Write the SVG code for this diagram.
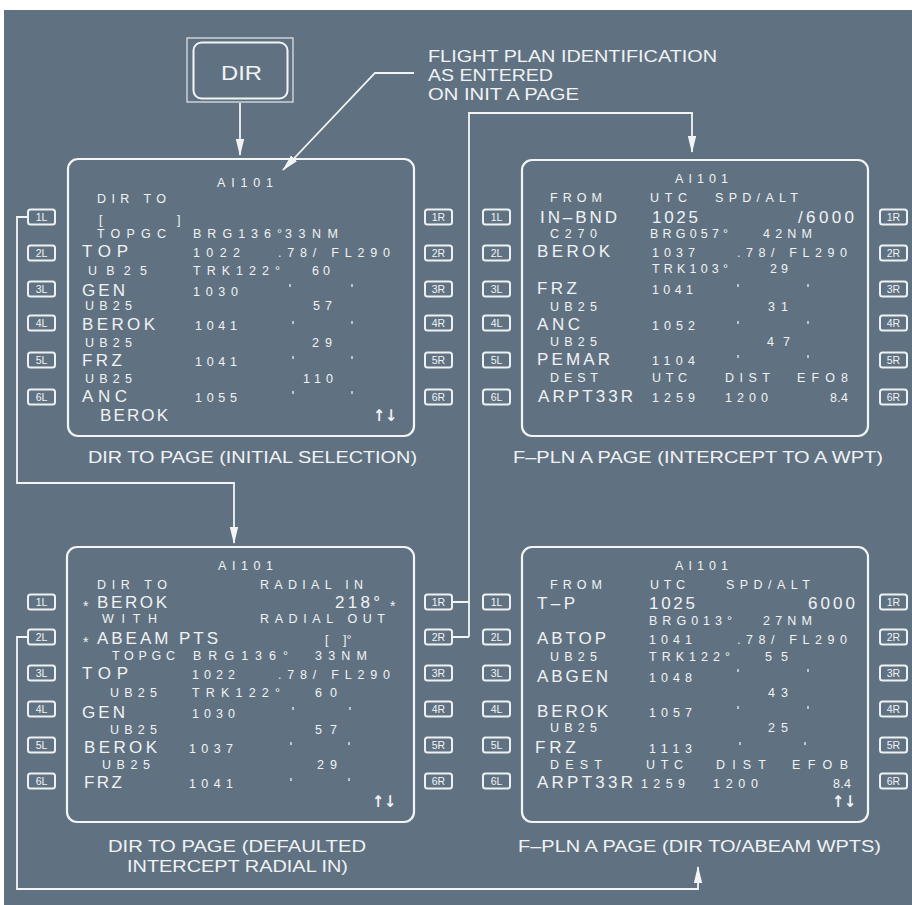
<svg xmlns="http://www.w3.org/2000/svg" width="912" height="905" viewBox="0 0 912 905">
<style>
.bg{fill:#607282}
.pn{fill:none;stroke:#f2f4f5;stroke-width:2.2}
.kb{fill:none;stroke:#eef1f3;stroke-width:2}
text{font-family:"Liberation Sans",Arial,sans-serif;fill:#f0f2f4}
.s{font-size:12.5px}
.l{font-size:17px}
.ar{font-family:"DejaVu Sans",sans-serif;font-size:16px;font-weight:bold}
.kt{font-size:10.5px;text-anchor:middle}
.cap{font-size:17px}
.c{fill:none;stroke:#f2f4f5;stroke-width:1.8}
.tk{fill:none;stroke:#eef1f3;stroke-width:1.3}
</style>
<defs>
<marker id="ah" markerUnits="userSpaceOnUse" markerWidth="17" markerHeight="10" refX="16" refY="5" orient="auto">
<path d="M0,0.8 L17,5 L0,9.2 z" fill="#f2f4f5"/>
</marker>
<g id="k1L"><rect class="kb" width="27" height="15" rx="2.5"/><text class="kt" x="13.5" y="11.5">1L</text></g>
<g id="k2L"><rect class="kb" width="27" height="15" rx="2.5"/><text class="kt" x="13.5" y="11.5">2L</text></g>
<g id="k3L"><rect class="kb" width="27" height="15" rx="2.5"/><text class="kt" x="13.5" y="11.5">3L</text></g>
<g id="k4L"><rect class="kb" width="27" height="15" rx="2.5"/><text class="kt" x="13.5" y="11.5">4L</text></g>
<g id="k5L"><rect class="kb" width="27" height="15" rx="2.5"/><text class="kt" x="13.5" y="11.5">5L</text></g>
<g id="k6L"><rect class="kb" width="27" height="15" rx="2.5"/><text class="kt" x="13.5" y="11.5">6L</text></g>
<g id="k1R"><rect class="kb" width="27" height="15" rx="2.5"/><text class="kt" x="13.5" y="11.5">1R</text></g>
<g id="k2R"><rect class="kb" width="27" height="15" rx="2.5"/><text class="kt" x="13.5" y="11.5">2R</text></g>
<g id="k3R"><rect class="kb" width="27" height="15" rx="2.5"/><text class="kt" x="13.5" y="11.5">3R</text></g>
<g id="k4R"><rect class="kb" width="27" height="15" rx="2.5"/><text class="kt" x="13.5" y="11.5">4R</text></g>
<g id="k5R"><rect class="kb" width="27" height="15" rx="2.5"/><text class="kt" x="13.5" y="11.5">5R</text></g>
<g id="k6R"><rect class="kb" width="27" height="15" rx="2.5"/><text class="kt" x="13.5" y="11.5">6R</text></g>
</defs>
<rect x="0" y="0" width="912" height="905" fill="#ffffff"/>
<rect class="bg" x="4" y="10" width="908" height="895"/>

<g id="connectors">
<path class="c" d="M240,103 V155" marker-end="url(#ah)"/>
<path class="c" d="M414,73 H375 L283,170" marker-end="url(#ah)"/>
<path class="c" d="M28,217 H17 V483 H234 V543" marker-end="url(#ah)"/>
<path class="c" d="M28,637 H17 V889 H698 V867" marker-end="url(#ah)"/>
<path class="c" d="M452,602 H469 M452,637 H469"/>
<path class="c" d="M469,637 V113 H692 V152" marker-end="url(#ah)"/>
</g>

<g id="dir-key">
<rect x="187" y="38" width="106" height="64" fill="none" stroke="#e6eaed" stroke-width="1.2"/>
<rect x="193.5" y="42.5" width="94" height="56" rx="8" fill="none" stroke="#f2f4f5" stroke-width="2"/>
<text x="221" y="80" font-size="20" textLength="41" lengthAdjust="spacingAndGlyphs">DIR</text>
</g>

<g id="note">
<text class="cap" x="428" y="62" textLength="289" lengthAdjust="spacingAndGlyphs">FLIGHT PLAN IDENTIFICATION</text>
<text class="cap" x="428" y="81" textLength="125" lengthAdjust="spacingAndGlyphs">AS ENTERED</text>
<text class="cap" x="428" y="100" textLength="151" lengthAdjust="spacingAndGlyphs">ON INIT A PAGE</text>
</g>

<g id="page-dir-initial">
<rect class="pn" x="68" y="159" width="346" height="277" rx="10"/>
<use href="#k1L" x="28" y="209.5"/><use href="#k2L" x="28" y="245.5"/><use href="#k3L" x="28" y="281.5"/>
<use href="#k4L" x="28" y="315.5"/><use href="#k5L" x="28" y="352.5"/><use href="#k6L" x="28" y="389.5"/>
<use href="#k1R" x="425" y="209.5"/><use href="#k2R" x="425" y="245.5"/><use href="#k3R" x="425" y="281.5"/>
<use href="#k4R" x="425" y="315.5"/><use href="#k5R" x="425" y="352.5"/><use href="#k6R" x="425" y="389.5"/>
<text class="s" x="217" y="187" textLength="56">AI101</text>
<text class="s" x="97" y="203" textLength="69">DIR TO</text>
<text class="s" x="99" y="224">[</text><text class="s" x="177" y="224">]</text>
<text class="s" x="97" y="238" textLength="69">TOPGC</text>
<text class="s" x="193" y="238" textLength="89">BRG136°</text>
<text class="s" x="285" y="238" textLength="53">33NM</text>
<text class="l" x="82" y="257" textLength="46">TOP</text>
<text class="s" x="193" y="257" textLength="47">1022</text>
<text class="s" x="278" y="257" textLength="112">.78/ FL290</text>
<text class="s" x="88" y="275" textLength="59">UB25</text>
<text class="s" x="193" y="275" textLength="87">TRK122°</text>
<text class="s" x="312" y="275" textLength="18">60</text>
<text class="l" x="82" y="296" textLength="43">GEN</text>
<text class="s" x="193" y="296" textLength="45">1030</text>
<text class="s" x="85" y="310" textLength="47">UB25</text>
<text class="s" x="313" y="310" textLength="19">57</text>
<text class="l" x="82" y="330" textLength="73">BEROK</text>
<text class="s" x="195" y="330" textLength="42">1041</text>
<text class="s" x="85" y="347" textLength="47">UB25</text>
<text class="s" x="312" y="347" textLength="20">29</text>
<text class="l" x="82" y="366" textLength="40">FRZ</text>
<text class="s" x="195" y="366" textLength="42">1041</text>
<text class="s" x="85" y="383" textLength="47">UB25</text>
<text class="s" x="303" y="383" textLength="30">110</text>
<text class="l" x="82" y="402" textLength="45">ANC</text>
<text class="s" x="195" y="402" textLength="42">1055</text>
<text class="l" x="100" y="421" textLength="68">BEROK</text>
<text class="ar" x="373" y="421" textLength="24" lengthAdjust="spacingAndGlyphs">↑↓</text>
<path class="tk" d="M290,284v3M352,284v3M293,321v3M352,321v3M293,356v3M352,356v3M293,391v3M352,391v3"/>
<text class="cap" x="88" y="463" textLength="329" lengthAdjust="spacingAndGlyphs">DIR TO PAGE (INITIAL SELECTION)</text>
</g>

<g id="page-fpln-intercept">
<rect class="pn" x="522" y="160" width="346" height="276" rx="10"/>
<use href="#k1L" x="483" y="209.5"/><use href="#k2L" x="483" y="245.5"/><use href="#k3L" x="483" y="281.5"/>
<use href="#k4L" x="483" y="315.5"/><use href="#k5L" x="483" y="352.5"/><use href="#k6L" x="483" y="389.5"/>
<use href="#k1R" x="880" y="209.5"/><use href="#k2R" x="880" y="245.5"/><use href="#k3R" x="880" y="281.5"/>
<use href="#k4R" x="880" y="315.5"/><use href="#k5R" x="880" y="352.5"/><use href="#k6R" x="880" y="389.5"/>
<text class="s" x="675" y="183" textLength="53">AI101</text>
<text class="s" x="550" y="202" textLength="52">FROM</text>
<text class="s" x="650" y="202" textLength="37">UTC</text>
<text class="s" x="715" y="202" textLength="83">SPD/ALT</text>
<text class="l" x="540" y="223" textLength="77">IN–BND</text>
<text class="l" x="652" y="223" textLength="46">1025</text>
<text class="l" x="798" y="223" textLength="56">/6000</text>
<text class="s" x="550" y="238" textLength="47">C270</text>
<text class="s" x="650" y="238" textLength="78">BRG057°</text>
<text class="s" x="763" y="238" textLength="49">42NM</text>
<text class="l" x="537" y="257" textLength="73">BEROK</text>
<text class="s" x="652" y="257" textLength="43">1037</text>
<text class="s" x="737" y="257" textLength="110">.78/ FL290</text>
<text class="s" x="652" y="273" textLength="76">TRK103°</text>
<text class="s" x="770" y="273" textLength="18">29</text>
<text class="l" x="537" y="294" textLength="40">FRZ</text>
<text class="s" x="652" y="294" textLength="41">1041</text>
<text class="s" x="550" y="311" textLength="47">UB25</text>
<text class="s" x="768" y="311" textLength="20">31</text>
<text class="l" x="537" y="330" textLength="43">ANC</text>
<text class="s" x="652" y="330" textLength="43">1052</text>
<text class="s" x="550" y="346" textLength="47">UB25</text>
<text class="s" x="767" y="346" textLength="23">47</text>
<text class="l" x="537" y="365" textLength="73">PEMAR</text>
<text class="s" x="652" y="365" textLength="43">1104</text>
<text class="s" x="550" y="382" textLength="48">DEST</text>
<text class="s" x="652" y="382" textLength="35">UTC</text>
<text class="s" x="725" y="382" textLength="45">DIST</text>
<text class="s" x="797" y="382" textLength="51">EFO8</text>
<text class="l" x="538" y="402" textLength="95">ARPT33R</text>
<text class="s" x="652" y="402" textLength="43">1259</text>
<text class="s" x="725" y="402" textLength="43">1200</text>
<text class="s" x="830" y="402" textLength="18">8.4</text>
<path class="tk" d="M738,284v3M808,284v3M738,321v3M808,321v3M738,355v3M808,355v3"/>
<text class="cap" x="513" y="463" textLength="370" lengthAdjust="spacingAndGlyphs">F–PLN A PAGE (INTERCEPT TO A WPT)</text>
</g>

<g id="page-dir-defaulted">
<rect class="pn" x="67" y="547" width="347" height="275" rx="10"/>
<use href="#k1L" x="28" y="594.5"/><use href="#k2L" x="28" y="629.5"/><use href="#k3L" x="28" y="665.5"/>
<use href="#k4L" x="28" y="701.5"/><use href="#k5L" x="28" y="737.5"/><use href="#k6L" x="28" y="773.5"/>
<use href="#k1R" x="425" y="594.5"/><use href="#k2R" x="425" y="629.5"/><use href="#k3R" x="425" y="665.5"/>
<use href="#k4R" x="425" y="701.5"/><use href="#k5R" x="425" y="737.5"/><use href="#k6R" x="425" y="773.5"/>
<text class="s" x="218" y="570" textLength="55">AI101</text>
<text class="s" x="97" y="589" textLength="70">DIR TO</text>
<text class="s" x="260" y="589" textLength="103">RADIAL IN</text>
<text x="83" y="611" font-size="14">*</text>
<text class="l" x="97" y="608" textLength="70">BEROK</text>
<text class="l" x="335" y="608" textLength="45">218°</text>
<text x="390" y="611" font-size="14">*</text>
<text class="s" x="102" y="623" textLength="55">WITH</text>
<text class="s" x="260" y="623" textLength="125">RADIAL OUT</text>
<text x="83" y="647" font-size="14">*</text>
<text class="l" x="97" y="644" textLength="121">ABEAM PTS</text>
<text class="s" x="325" y="644">[</text><text class="s" x="343" y="644">]°</text>
<text class="s" x="112" y="660" textLength="63">TOPGC</text>
<text class="s" x="193" y="660" textLength="95">BRG136°</text>
<text class="s" x="315" y="660" textLength="52">33NM</text>
<text class="l" x="82" y="679" textLength="46">TOP</text>
<text class="s" x="192" y="679" textLength="43">1022</text>
<text class="s" x="278" y="679" textLength="112">.78/ FL290</text>
<text class="s" x="110" y="697" textLength="47">UB25</text>
<text class="s" x="192" y="697" textLength="88">TRK122°</text>
<text class="s" x="315" y="697" textLength="22">60</text>
<text class="l" x="82" y="718" textLength="43">GEN</text>
<text class="s" x="192" y="718" textLength="43">1030</text>
<text class="s" x="110" y="734" textLength="47">UB25</text>
<text class="s" x="315" y="734" textLength="22">57</text>
<text class="l" x="84" y="753" textLength="73">BEROK</text>
<text class="s" x="189" y="753" textLength="44">1037</text>
<text class="s" x="102" y="769" textLength="48">UB25</text>
<text class="s" x="317" y="769" textLength="20">29</text>
<text class="l" x="84" y="788" textLength="38">FRZ</text>
<text class="s" x="189" y="788" textLength="44">1041</text>
<text class="ar" x="372" y="807" textLength="24" lengthAdjust="spacingAndGlyphs">↑↓</text>
<path class="tk" d="M293,707v3M350,707v3M291,742v3M349,742v3M291,778v3M349,778v3"/>
<text class="cap" x="108" y="852" textLength="258" lengthAdjust="spacingAndGlyphs">DIR TO PAGE (DEFAULTED</text>
<text class="cap" x="127" y="872" textLength="221" lengthAdjust="spacingAndGlyphs">INTERCEPT RADIAL IN)</text>
</g>

<g id="page-fpln-abeam">
<rect class="pn" x="522" y="547" width="346" height="275" rx="10"/>
<use href="#k1L" x="483" y="594.5"/><use href="#k2L" x="483" y="629.5"/><use href="#k3L" x="483" y="665.5"/>
<use href="#k4L" x="483" y="701.5"/><use href="#k5L" x="483" y="737.5"/><use href="#k6L" x="483" y="773.5"/>
<use href="#k1R" x="880" y="594.5"/><use href="#k2R" x="880" y="629.5"/><use href="#k3R" x="880" y="665.5"/>
<use href="#k4R" x="880" y="701.5"/><use href="#k5R" x="880" y="737.5"/><use href="#k6R" x="880" y="773.5"/>
<text class="s" x="675" y="570" textLength="53">AI101</text>
<text class="s" x="550" y="589" textLength="52">FROM</text>
<text class="s" x="650" y="589" textLength="35">UTC</text>
<text class="s" x="726" y="589" textLength="84">SPD/ALT</text>
<text class="l" x="537" y="609" textLength="38">T–P</text>
<text class="l" x="649" y="609" textLength="46">1025</text>
<text class="l" x="808" y="609" textLength="47">6000</text>
<text class="s" x="649" y="625" textLength="83">BRG013°</text>
<text class="s" x="763" y="625" textLength="49">27NM</text>
<text class="l" x="537" y="644" textLength="69">ABTOP</text>
<text class="s" x="649" y="644" textLength="43">1041</text>
<text class="s" x="737" y="644" textLength="110">.78/ FL290</text>
<text class="s" x="550" y="661" textLength="47">UB25</text>
<text class="s" x="649" y="661" textLength="81">TRK122°</text>
<text class="s" x="765" y="661" textLength="23">55</text>
<text class="l" x="537" y="682" textLength="71">ABGEN</text>
<text class="s" x="649" y="682" textLength="43">1048</text>
<text class="s" x="768" y="697" textLength="20">43</text>
<text class="l" x="537" y="717" textLength="71">BEROK</text>
<text class="s" x="649" y="717" textLength="43">1057</text>
<text class="s" x="550" y="732" textLength="47">UB25</text>
<text class="s" x="768" y="732" textLength="20">25</text>
<text class="l" x="535" y="753" textLength="41">FRZ</text>
<text class="s" x="649" y="753" textLength="43">1113</text>
<text class="s" x="550" y="769" textLength="52">DEST</text>
<text class="s" x="646" y="769" textLength="37">UTC</text>
<text class="s" x="716" y="769" textLength="50">DIST</text>
<text class="s" x="792" y="769" textLength="56">EFOB</text>
<text class="l" x="537" y="788" textLength="96">ARPT33R</text>
<text class="s" x="641" y="788" textLength="44">1259</text>
<text class="s" x="713" y="788" textLength="45">1200</text>
<text class="s" x="833" y="788" textLength="18">8.4</text>
<text class="ar" x="832" y="807" textLength="24" lengthAdjust="spacingAndGlyphs">↑↓</text>
<path class="tk" d="M738,669v3M808,669v3M738,706v3M808,706v3M740,742v3M805,742v3"/>
<text class="cap" x="518" y="852" textLength="363" lengthAdjust="spacingAndGlyphs">F–PLN A PAGE (DIR TO/ABEAM WPTS)</text>
</g>
</svg>
